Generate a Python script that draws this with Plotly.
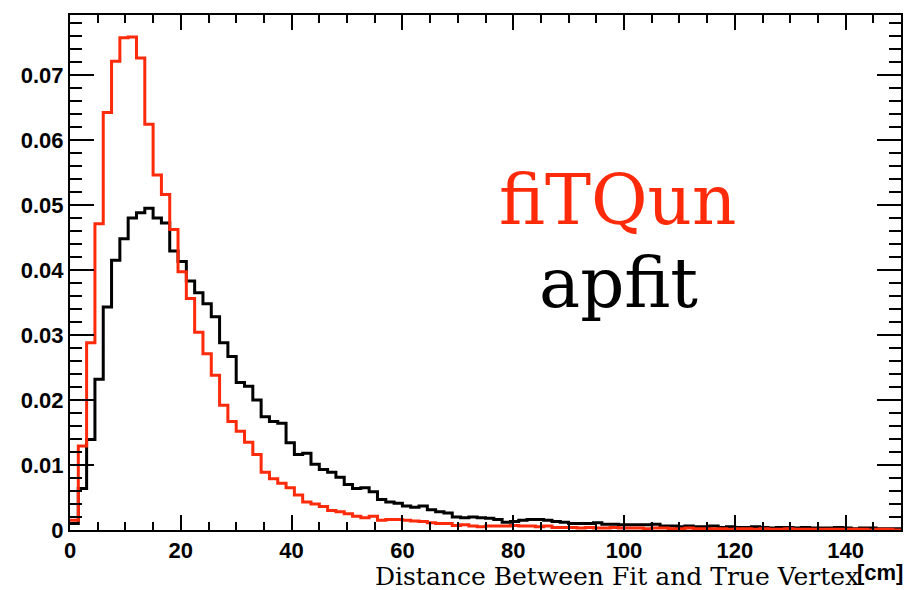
import numpy as np
import plotly.graph_objects as go

# Histogram: 100 bins from 0 to 150 cm
x_min, x_max, n_bins = 0.0, 150.0, 100

fitqun = [
    0.0015, 0.0129, 0.0288, 0.0471, 0.0642, 0.0721, 0.0757, 0.0758, 0.0726, 0.0624,
    0.0546, 0.0516, 0.0462, 0.0397, 0.0356, 0.0304, 0.0271, 0.0238, 0.0192, 0.0167,
    0.0152, 0.0135, 0.0116, 0.0089, 0.0079, 0.0072, 0.0065, 0.0054, 0.0043, 0.0040,
    0.0036, 0.0030, 0.0028, 0.0025, 0.0021, 0.0019, 0.0021, 0.0015, 0.0016, 0.0016,
    0.0015, 0.0014, 0.0013, 0.0011, 0.0010, 0.0010, 0.0007, 0.0008, 0.0006, 0.0005,
    0.0006, 0.0006, 0.0006, 0.0007, 0.0006, 0.0006, 0.0005, 0.0006, 0.0004, 0.0004,
    0.0004, 0.0003, 0.0004, 0.0003, 0.0003, 0.0004, 0.0003, 0.0003, 0.0003, 0.0002,
    0.0003, 0.0003, 0.0002, 0.0002, 0.0003, 0.0002, 0.0002, 0.0002, 0.0002, 0.0001,
    0.0002, 0.0002, 0.0001, 0.0002, 0.0001, 0.0001, 0.0002, 0.0001, 0.0001, 0.0001,
    0.0001, 0.0001, 0.0001, 0.0001, 0.0001, 0.0001, 0.0000, 0.0001, 0.0001, 0.0000,
]

apfit = [
    0.0010, 0.0064, 0.0139, 0.0232, 0.0343, 0.0415, 0.0448, 0.0480, 0.0488, 0.0495,
    0.0480, 0.0472, 0.0429, 0.0413, 0.0383, 0.0365, 0.0348, 0.0328, 0.0288, 0.0267,
    0.0227, 0.0221, 0.0200, 0.0174, 0.0167, 0.0164, 0.0134, 0.0116, 0.0118, 0.0101,
    0.0093, 0.0089, 0.0081, 0.0070, 0.0064, 0.0065, 0.0059, 0.0047, 0.0043, 0.0041,
    0.0037, 0.0035, 0.0037, 0.0031, 0.0028, 0.0026, 0.0020, 0.0019, 0.0020, 0.0019,
    0.0018, 0.0016, 0.0012, 0.0013, 0.0015, 0.0016, 0.0016, 0.0015, 0.0013, 0.0012,
    0.0010, 0.0010, 0.0010, 0.0011, 0.0009, 0.0009, 0.0008, 0.0008, 0.0008, 0.0008,
    0.0009, 0.0006, 0.0006, 0.0005, 0.0006, 0.0005, 0.0005, 0.0006, 0.0004, 0.0005,
    0.0004, 0.0004, 0.0005, 0.0004, 0.0003, 0.0004, 0.0004, 0.0003, 0.0004, 0.0003,
    0.0003, 0.0003, 0.0004, 0.0003, 0.0002, 0.0003, 0.0003, 0.0002, 0.0002, 0.0002,
]

y_tickvals = [0, 0.01, 0.02, 0.03, 0.04, 0.05, 0.06, 0.07]
y_ticktext = ["0", "0.01", "0.02", "0.03", "0.04", "0.05", "0.06", "0.07"]
x_tickvals = [0, 20, 40, 60, 80, 100, 120, 140]

edges = np.linspace(x_min, x_max, n_bins + 1)


def step_xy(vals):
    xs = list(edges)
    ys = list(vals) + [vals[-1]]
    return xs, ys


RED = "#ff2a0a"
fig = go.Figure()
for vals, col in [(apfit, "black"), (fitqun, RED)]:
    xs, ys = step_xy(vals)
    fig.add_trace(go.Scatter(x=xs, y=ys, mode="lines", line=dict(color=col, width=3, shape="hv"),
                             showlegend=False, hoverinfo="skip"))

tickfont = dict(family="Liberation Sans, Arial, sans-serif", size=22, color="black")
fig.update_layout(
    width=909, height=590,
    margin=dict(l=70, r=6, t=15, b=60),
    paper_bgcolor="white", plot_bgcolor="white",
    xaxis=dict(range=[x_min, x_max], tickvals=x_tickvals, ticks="inside", ticklen=15,
               tickwidth=1.5, tickcolor="black", showline=True, linecolor="black", linewidth=2,
               mirror="allticks", showgrid=False, zeroline=False,
               tickfont=dict(tickfont, weight="bold"),
               minor=dict(dtick=5, ticks="inside", ticklen=8, tickcolor="black", tickwidth=1.5, showgrid=False)),
    yaxis=dict(range=[0, 0.0792], tickvals=y_tickvals, ticktext=y_ticktext, ticks="inside", ticklen=24,
               tickwidth=1.5, tickcolor="black", showline=True, linecolor="black", linewidth=2,
               mirror="allticks", showgrid=False, zeroline=False,
               tickfont=dict(tickfont, weight="bold"),
               minor=dict(dtick=0.002, ticks="inside", ticklen=12, tickcolor="black", tickwidth=1.5, showgrid=False)),
)

fig.add_annotation(text="fiTQun", xref="paper", yref="paper", x=0.660, y=0.641,
                   showarrow=False, font=dict(family="DejaVu Serif", size=69, color=RED),
                   xanchor="center", yanchor="middle")
fig.add_annotation(text="apfit", xref="paper", yref="paper", x=0.660, y=0.480,
                   showarrow=False, font=dict(family="DejaVu Serif", size=69, color="black"),
                   xanchor="center", yanchor="middle")
fig.add_annotation(text="Distance Between Fit and True Vertex", xref="paper", yref="paper",
                   x=0.658, y=-0.091, showarrow=False,
                   font=dict(family="DejaVu Serif", size=25, color="black"),
                   xanchor="center", yanchor="middle")
fig.add_annotation(text="<b>[cm]</b>", xref="paper", yref="paper", x=0.975, y=-0.082,
                   showarrow=False, font=dict(family="Liberation Sans, Arial, sans-serif", size=22, color="black"),
                   xanchor="center", yanchor="middle")

fig.write_html("out.html")
